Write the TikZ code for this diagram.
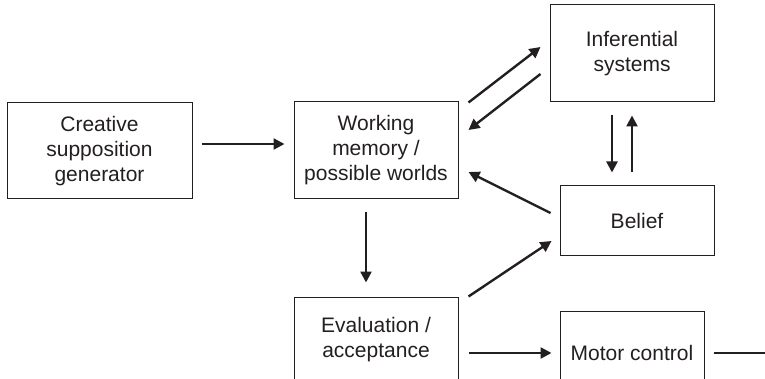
\documentclass[tikz,border=0pt]{standalone}
\usepackage{fontspec}
\setmainfont{Liberation Sans}
\usetikzlibrary{arrows.meta}
\definecolor{ink}{HTML}{231F20}
\tikzset{
  box/.style={draw=ink, line width=1pt, inner sep=0pt, align=center, text=ink,
    font=\fontsize{21}{25}\selectfont},
  arr/.style={draw=ink, line width=2.4pt, -{Triangle[length=11pt,width=11pt]}},
  plain/.style={draw=ink, line width=2.4pt}
}
\begin{document}
\begin{tikzpicture}[x=1pt,y=1pt]
\useasboundingbox (0,0) rectangle (765,-379);
\clip (0,0) rectangle (765,-379);
\node[box, minimum width=185pt, minimum height=96pt] (cre) at (99.5,-151) {Creative\\supposition\\generator};
\node[box, minimum width=164pt, minimum height=97pt] (wm) at (376,-150.5) {Working\\memory /\\possible worlds};
\node[box, minimum width=164pt, minimum height=97pt] (inf) at (632,-53.5) {Inferential\\systems};
\node[box, minimum width=154pt, minimum height=70pt] (bel) at (637,-221) {Belief};
\node[box, minimum width=164pt, minimum height=85pt] (eva) at (376,-339.5) {Evaluation /\\acceptance};
\node[box, minimum width=144pt, minimum height=84pt] (mot) at (632,-353) {Motor control};
\coordinate (out) at (768,-353);
\draw[arr] ([shift={(9,7)}]cre.east) -- ([shift={(-9,6.5)}]wm.west);
\draw[arr] ([shift={(10,-1)}]wm.north east) -- ([shift={(-9,6.5)}]inf.west);
\draw[arr] ([shift={(-9,-20.5)}]inf.west) -- ([shift={(10,20.5)}]wm.east);
\draw[arr] ([shift={(-9,8)}]bel.west) -- ([shift={(10,-21.5)}]wm.east);
\draw[arr] ([shift={(-10,-13)}]wm.south) -- ([shift={(-10,14)}]eva.north);
\draw[arr] ([shift={(10,0)}]eva.north east) -- ([shift={(-8,-20)}]bel.west);
\draw[arr] ([shift={(10,-13.5)}]eva.east) -- ([shift={(-8,0)}]mot.west);
\draw[arr] ([shift={(-20,-13)}]inf.south) -- ([shift={(-25,13)}]bel.north);
\draw[arr] ([shift={(-5,13)}]bel.north) -- ([shift={(0,-13)}]inf.south);
\draw[plain] ([shift={(9,0)}]mot.east) -- (out);
\end{tikzpicture}
\end{document}
